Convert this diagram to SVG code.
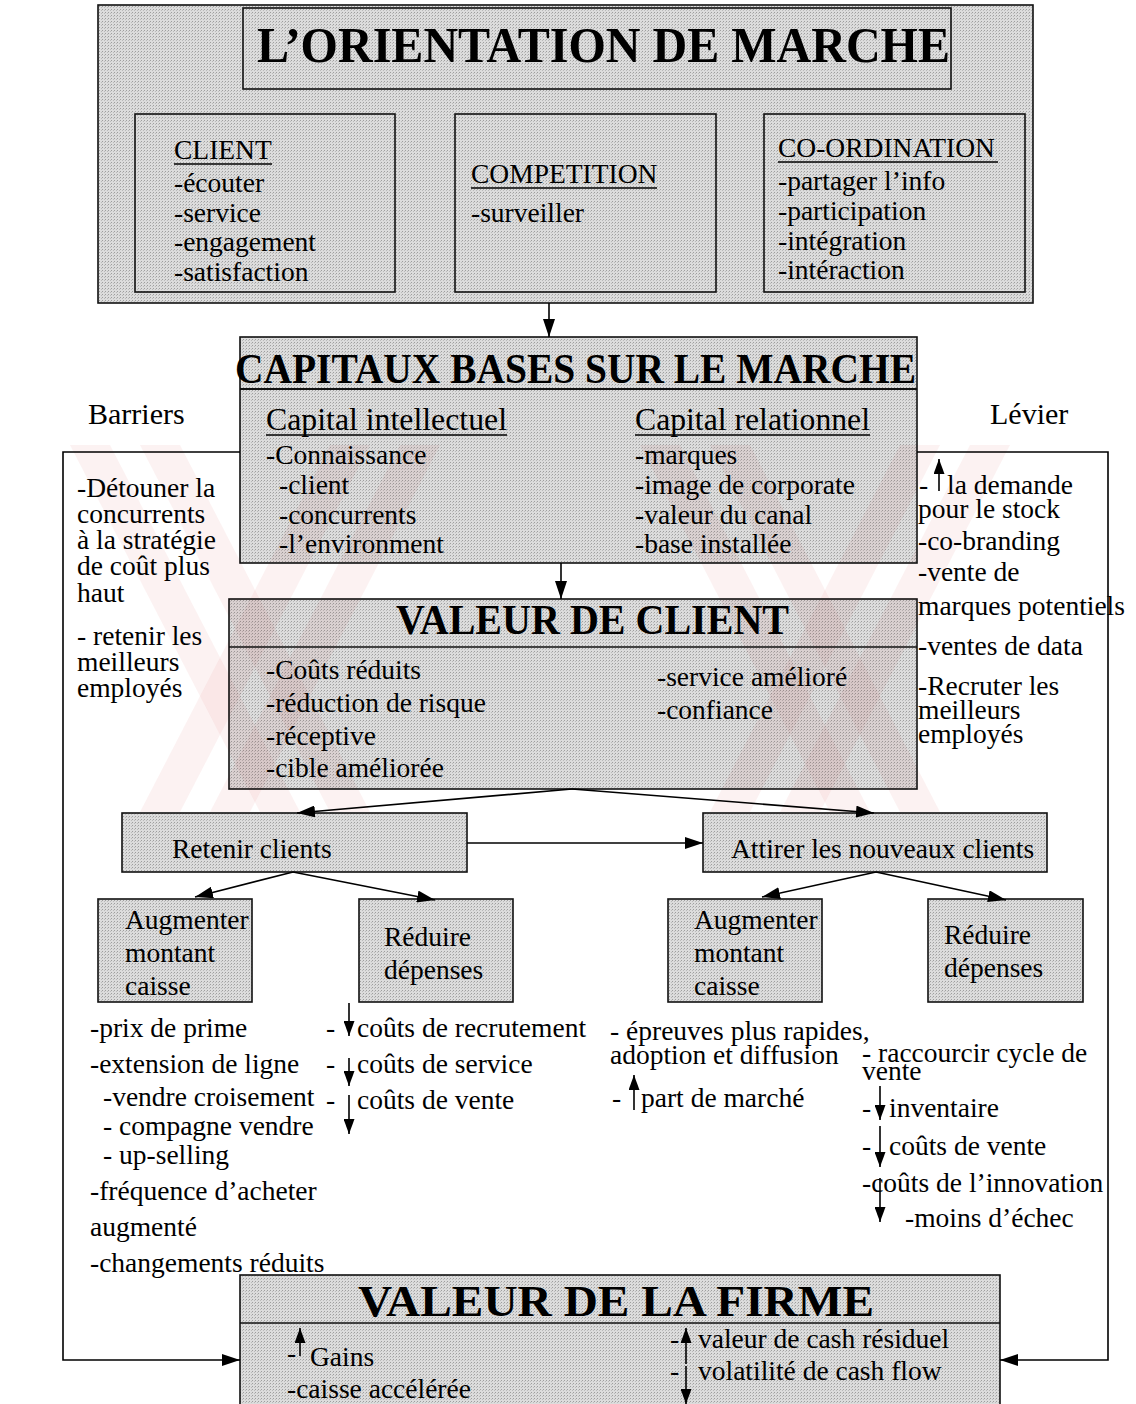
<svg xmlns="http://www.w3.org/2000/svg" width="1136" height="1404" viewBox="0 0 1136 1404">
<style>
.box{fill:url(#ht);stroke:#111;stroke-width:1.6}
.t{font-family:'Liberation Serif','Times New Roman',serif;font-size:27.5px;fill:#000}
.h{font-weight:bold}
.ln{stroke:#000;stroke-width:1.6;fill:none}
.ul{stroke:#000;stroke-width:1.4}
.wm{fill:#e88a8a;opacity:0.11}
</style>
<defs>
<pattern id="ht" width="3" height="3" patternUnits="userSpaceOnUse">
<rect width="3" height="3" fill="#dcdcdc"/>
<rect width="1" height="1" fill="#9e9e9e"/>
<rect x="2" y="1" width="1" height="1" fill="#bababa"/>
</pattern>
<marker id="ah" viewBox="0 0 18 12" refX="18" refY="6" markerWidth="18" markerHeight="12" orient="auto" markerUnits="userSpaceOnUse">
<path d="M0,0 L18,6 L0,12 z" fill="#000"/>
</marker>
<marker id="sa" viewBox="0 0 15 11" refX="15" refY="5.5" markerWidth="15" markerHeight="11" orient="auto" markerUnits="userSpaceOnUse">
<path d="M0,0 L15,5.5 L0,11 z" fill="#000"/>
</marker>
</defs>
<rect width="1136" height="1404" fill="#fff"/>

<g id="orientation">
<rect class="box" x="98" y="5" width="935" height="298"/>
<rect class="box" x="243" y="8" width="708" height="81"/>
<text class="t h" x="257" y="62" style="font-size:50px" textLength="693" lengthAdjust="spacingAndGlyphs">L’ORIENTATION DE MARCHE</text>
</g>
<g id="client">
<rect class="box" x="135" y="114" width="260" height="178"/>
<text class="t" x="174" y="159">CLIENT</text>
<line class="ul" x1="174" y1="164" x2="272" y2="164"/>
<text class="t" x="174" y="192">-écouter</text>
<text class="t" x="174" y="222">-service</text>
<text class="t" x="174" y="251">-engagement</text>
<text class="t" x="174" y="281">-satisfaction</text>
</g>
<g id="competition">
<rect class="box" x="455" y="114" width="261" height="178"/>
<text class="t" x="471" y="183">COMPETITION</text>
<line class="ul" x1="471" y1="188" x2="657" y2="188"/>
<text class="t" x="471" y="222">-surveiller</text>
</g>
<g id="coordination">
<rect class="box" x="764" y="114" width="261" height="178"/>
<text class="t" x="778" y="157">CO-ORDINATION</text>
<line class="ul" x1="778" y1="162" x2="998" y2="162"/>
<text class="t" x="778" y="190">-partager l’info</text>
<text class="t" x="778" y="220">-participation</text>
<text class="t" x="778" y="250">-intégration</text>
<text class="t" x="778" y="279">-intéraction</text>
</g>

<g id="capitaux">
<rect class="box" x="240" y="337" width="677" height="226"/>
<text class="t h" x="235" y="383" style="font-size:43px" textLength="681" lengthAdjust="spacingAndGlyphs">CAPITAUX BASES SUR LE MARCHE</text>
<line x1="240" y1="389" x2="917" y2="389" stroke="#111" stroke-width="2"/>
<text class="t" x="266" y="430" style="font-size:31px" textLength="241" lengthAdjust="spacingAndGlyphs">Capital intellectuel</text>
<line class="ul" x1="266" y1="435" x2="507" y2="435"/>
<text class="t" x="635" y="430" style="font-size:31px" textLength="235" lengthAdjust="spacingAndGlyphs">Capital relationnel</text>
<line class="ul" x1="635" y1="435" x2="870" y2="435"/>
<text class="t" x="266" y="464">-Connaissance</text>
<text class="t" x="279" y="494">-client</text>
<text class="t" x="279" y="524">-concurrents</text>
<text class="t" x="279" y="553">-l’environment</text>
<text class="t" x="635" y="464">-marques</text>
<text class="t" x="635" y="494">-image de corporate</text>
<text class="t" x="635" y="524">-valeur du canal</text>
<text class="t" x="635" y="553">-base installée</text>
</g>

<g id="barriers">
<text class="t" x="88" y="424" style="font-size:30px">Barriers</text>
<text class="t" x="77" y="497">-Détouner la</text>
<text class="t" x="77" y="523">concurrents</text>
<text class="t" x="77" y="549">à la stratégie</text>
<text class="t" x="77" y="575">de coût plus</text>
<text class="t" x="77" y="602">haut</text>
<text class="t" x="77" y="645">- retenir les</text>
<text class="t" x="77" y="671">meilleurs</text>
<text class="t" x="77" y="697">employés</text>
</g>

<g id="levier">
<text class="t" x="990" y="424" style="font-size:30px">Lévier</text>
<text class="t" x="919" y="494">-</text>
<line class="ln" x1="939" y1="491" x2="939" y2="459" marker-end="url(#sa)"/>
<text class="t" x="947" y="494">la demande</text>
<text class="t" x="918" y="518">pour le stock</text>
<text class="t" x="918" y="550">-co-branding</text>
<text class="t" x="918" y="581">-vente de</text>
<text class="t" x="918" y="615">marques potentiels</text>
<text class="t" x="918" y="655">-ventes de data</text>
<text class="t" x="918" y="695">-Recruter les</text>
<text class="t" x="918" y="719">meilleurs</text>
<text class="t" x="918" y="743">employés</text>
</g>

<g id="valeur-client">
<rect class="box" x="229" y="599" width="688" height="190"/>
<text class="t h" x="396" y="634" style="font-size:42px" textLength="393" lengthAdjust="spacingAndGlyphs">VALEUR DE CLIENT</text>
<line x1="229" y1="647" x2="917" y2="647" stroke="#111" stroke-width="1.6"/>
<text class="t" x="266" y="679">-Coûts réduits</text>
<text class="t" x="266" y="712">-réduction de risque</text>
<text class="t" x="266" y="745">-réceptive</text>
<text class="t" x="266" y="777">-cible améliorée</text>
<text class="t" x="657" y="686">-service amélioré</text>
<text class="t" x="657" y="719">-confiance</text>
</g>

<g id="retenir">
<rect class="box" x="122" y="813" width="345" height="59"/>
<text class="t" x="172" y="858">Retenir clients</text>
</g>
<g id="attirer">
<rect class="box" x="703" y="813" width="344" height="59"/>
<text class="t" x="731" y="858">Attirer les nouveaux clients</text>
</g>
<g id="augmenter1">
<rect class="box" x="98" y="899" width="154" height="103"/>
<text class="t" x="125" y="929">Augmenter</text>
<text class="t" x="125" y="962">montant</text>
<text class="t" x="125" y="995">caisse</text>
</g>
<g id="reduire1">
<rect class="box" x="359" y="899" width="154" height="103"/>
<text class="t" x="384" y="946">Réduire</text>
<text class="t" x="384" y="979">dépenses</text>
</g>
<g id="augmenter2">
<rect class="box" x="668" y="899" width="154" height="103"/>
<text class="t" x="694" y="929">Augmenter</text>
<text class="t" x="694" y="962">montant</text>
<text class="t" x="694" y="995">caisse</text>
</g>
<g id="reduire2">
<rect class="box" x="928" y="899" width="155" height="103"/>
<text class="t" x="944" y="944">Réduire</text>
<text class="t" x="944" y="977">dépenses</text>
</g>

<g id="list-augmenter1">
<text class="t" x="90" y="1037">-prix de prime</text>
<text class="t" x="90" y="1073">-extension de ligne</text>
<text class="t" x="103" y="1106">-vendre croisement</text>
<text class="t" x="103" y="1135">- compagne vendre</text>
<text class="t" x="103" y="1164">- up-selling</text>
<text class="t" x="90" y="1200">-fréquence d’acheter</text>
<text class="t" x="90" y="1236">augmenté</text>
<text class="t" x="90" y="1272">-changements réduits</text>
</g>
<g id="list-reduire1">
<text class="t" x="326" y="1037">-</text>
<text class="t" x="357" y="1037">coûts de recrutement</text>
<text class="t" x="326" y="1073">-</text>
<text class="t" x="357" y="1073">coûts de service</text>
<text class="t" x="326" y="1109">-</text>
<text class="t" x="357" y="1109">coûts de vente</text>
</g>
<g id="list-augmenter2">
<text class="t" x="610" y="1040">- épreuves plus rapides,</text>
<text class="t" x="610" y="1064">adoption et diffusion</text>
<text class="t" x="612" y="1107">-</text>
<text class="t" x="641" y="1107">part de marché</text>
</g>
<g id="list-reduire2">
<text class="t" x="862" y="1062">- raccourcir cycle de</text>
<text class="t" x="862" y="1080">vente</text>
<text class="t" x="862" y="1117">-</text>
<text class="t" x="889" y="1117">inventaire</text>
<text class="t" x="862" y="1155">-</text>
<text class="t" x="889" y="1155">coûts de vente</text>
<text class="t" x="862" y="1192">-coûts de l’innovation</text>
<text class="t" x="905" y="1227">-moins d’échec</text>
</g>

<g id="firme">
<rect class="box" x="240" y="1275" width="760" height="140"/>
<text class="t h" x="358" y="1316" style="font-size:45px" textLength="516" lengthAdjust="spacingAndGlyphs">VALEUR DE LA FIRME</text>
<line x1="240" y1="1323" x2="1000" y2="1323" stroke="#111" stroke-width="1.6"/>
<text class="t" x="287" y="1362">-</text>
<line class="ln" x1="300" y1="1356" x2="300" y2="1328" marker-end="url(#sa)"/>
<text class="t" x="310" y="1366">Gains</text>
<text class="t" x="287" y="1398">-caisse accélérée</text>
<text class="t" x="670" y="1348">-</text>
<text class="t" x="698" y="1348">valeur de cash résiduel</text>
<line class="ln" x1="686" y1="1364" x2="686" y2="1328" marker-end="url(#sa)"/>
<text class="t" x="670" y="1380">-</text>
<text class="t" x="698" y="1380">volatilité de cash flow</text>
<line class="ln" x1="686" y1="1366" x2="686" y2="1404" marker-end="url(#sa)"/>
</g>

<g id="connectors">
<line class="ln" x1="549" y1="303" x2="549" y2="337" marker-end="url(#ah)"/>
<line class="ln" x1="561" y1="563" x2="561" y2="599" marker-end="url(#ah)"/>
<line class="ln" x1="572" y1="789" x2="297" y2="813" marker-end="url(#ah)"/>
<line class="ln" x1="572" y1="789" x2="874" y2="813" marker-end="url(#ah)"/>
<line class="ln" x1="467" y1="843" x2="703" y2="843" marker-end="url(#ah)"/>
<line class="ln" x1="293" y1="872" x2="195" y2="897" marker-end="url(#ah)"/>
<line class="ln" x1="293" y1="872" x2="435" y2="900" marker-end="url(#ah)"/>
<line class="ln" x1="876" y1="872" x2="762" y2="897" marker-end="url(#ah)"/>
<line class="ln" x1="876" y1="872" x2="1006" y2="900" marker-end="url(#ah)"/>
<polyline class="ln" points="240,452 63,452 63,1360 240,1360" marker-end="url(#ah)"/>
<polyline class="ln" points="917,452 1108,452 1108,1360 1000,1360" marker-end="url(#ah)"/>
<line class="ln" x1="349" y1="1003" x2="349" y2="1036" marker-end="url(#sa)"/>
<line class="ln" x1="349" y1="1058" x2="349" y2="1086" marker-end="url(#sa)"/>
<line class="ln" x1="349" y1="1095" x2="349" y2="1134" marker-end="url(#sa)"/>
<line class="ln" x1="634" y1="1110" x2="634" y2="1075" marker-end="url(#sa)"/>
<line class="ln" x1="880" y1="1086" x2="880" y2="1120" marker-end="url(#sa)"/>
<line class="ln" x1="880" y1="1126" x2="880" y2="1167" marker-end="url(#sa)"/>
<line class="ln" x1="880" y1="1178" x2="880" y2="1222" marker-end="url(#sa)"/>
</g>

<g id="watermark" style="mix-blend-mode:multiply">
<polygon class="wm" points="70,445 110,445 300,812 260,812"/>
<polygon class="wm" points="140,445 180,445 370,812 330,812"/>
<polygon class="wm" points="330,445 370,445 180,812 140,812"/>
<polygon class="wm" points="400,445 440,445 250,812 210,812"/>
<polygon class="wm" points="640,445 680,445 870,812 830,812"/>
<polygon class="wm" points="710,445 750,445 940,812 900,812"/>
<polygon class="wm" points="900,445 940,445 750,812 710,812"/>
<polygon class="wm" points="970,445 1010,445 820,812 780,812"/>
</g>
</svg>
